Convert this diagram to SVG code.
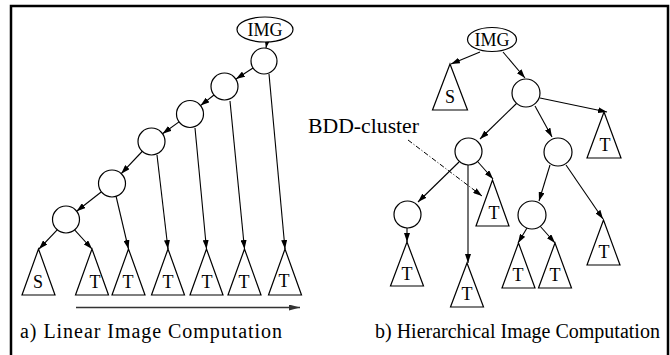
<svg xmlns="http://www.w3.org/2000/svg" width="670" height="355" viewBox="0 0 670 355">
<defs>
<marker id="ah" markerWidth="9" markerHeight="6" refX="9" refY="3" orient="auto" markerUnits="userSpaceOnUse">
<path d="M0,0 L9,3 L0,6 Z" fill="#000"/>
</marker>
<marker id="ahg" markerWidth="11" markerHeight="6" refX="11" refY="3" orient="auto" markerUnits="userSpaceOnUse">
<path d="M0,0 L11,3 L0,6 Z" fill="#333"/>
</marker>
</defs>
<style>
.n{fill:#fff;stroke:#000;stroke-width:1.2}
.e{stroke:#000;stroke-width:1.1;fill:none;marker-end:url(#ah)}
.t{font-family:"Liberation Serif","Times New Roman",serif;font-size:18px;fill:#000;text-anchor:middle}
.lab{font-family:"Liberation Serif","Times New Roman",serif;font-size:20px;fill:#000}
</style>
<rect width="670" height="355" fill="#fff"/>
<path d="M11,355 V6 H668 V355" fill="none" stroke="#000" stroke-width="2.5"/>

<g id="connectors">
<line class="e" x1="267" y1="42" x2="266" y2="48"/>
<line class="e" x1="253" y1="68" x2="236" y2="79"/>
<line class="e" x1="214" y1="95" x2="200.5" y2="105.6"/>
<line class="e" x1="179.4" y1="121.6" x2="162.5" y2="133.7"/>
<line class="e" x1="142.6" y1="151" x2="121.2" y2="173.7"/>
<line class="e" x1="101.8" y1="191.5" x2="76.6" y2="211.2"/>
<line class="e" x1="57.2" y1="229.8" x2="39" y2="249"/>
<line class="e" x1="74.6" y1="229.9" x2="92" y2="249"/>
<line class="e" x1="116" y1="196" x2="128.5" y2="249"/>
<line class="e" x1="157" y1="155" x2="168" y2="249"/>
<line class="e" x1="195" y1="128" x2="206.5" y2="249"/>
<line class="e" x1="230" y1="101" x2="244.5" y2="249"/>
<line class="e" x1="269" y1="74" x2="285" y2="249"/>
<line x1="76" y1="307.5" x2="300" y2="307.5" stroke="#333" stroke-width="1.4" marker-end="url(#ahg)"/>
<line class="e" x1="480" y1="52" x2="451" y2="64"/>
<line class="e" x1="503" y1="52" x2="525" y2="78"/>
<line class="e" x1="540" y1="98" x2="607" y2="112"/>
<line class="e" x1="535" y1="106" x2="552" y2="137"/>
<line class="e" x1="517" y1="103" x2="480" y2="139"/>
<line class="e" x1="459" y1="162" x2="418" y2="202"/>
<line class="e" x1="468" y1="165" x2="468" y2="263"/>
<line class="e" x1="478" y1="162" x2="493" y2="179"/>
<line class="e" x1="407" y1="228" x2="407" y2="242"/>
<line class="e" x1="550" y1="165" x2="539" y2="201"/>
<line class="e" x1="566" y1="165" x2="603" y2="219"/>
<line class="e" x1="527" y1="228" x2="518" y2="243"/>
<line class="e" x1="540" y1="226" x2="555" y2="243"/>
<line x1="408" y1="140" x2="482" y2="196" stroke="#000" stroke-width="1" stroke-dasharray="5,2,1,2" marker-end="url(#ah)"/>
</g>

<g id="a-img"><ellipse class="n" cx="265" cy="29.5" rx="28" ry="12.5"/><text class="t" x="265" y="36">IMG</text></g>
<g id="a-c1"><circle class="n" cx="264" cy="61" r="13"/></g>
<g id="a-c2"><circle class="n" cx="224.5" cy="86.5" r="13.5"/></g>
<g id="a-c3"><circle class="n" cx="190" cy="114" r="13.5"/></g>
<g id="a-c4"><circle class="n" cx="151.5" cy="141.5" r="13.5"/></g>
<g id="a-c5"><circle class="n" cx="112" cy="183.5" r="13.5"/></g>
<g id="a-c6"><circle class="n" cx="66" cy="219.5" r="13.5"/></g>
<g id="a-s"><polygon class="n" points="38.5,249 22,295 55,295"/><text class="t" x="38" y="288">S</text></g>
<g id="a-t1"><polygon class="n" points="92,249 75.5,295 108.5,295"/><text class="t" x="95" y="288">T</text></g>
<g id="a-t2"><polygon class="n" points="128.5,249 112,295 145,295"/><text class="t" x="128" y="288">T</text></g>
<g id="a-t3"><polygon class="n" points="168,249 151.5,295 184.5,295"/><text class="t" x="168" y="288">T</text></g>
<g id="a-t4"><polygon class="n" points="206.5,249 190,295 223,295"/><text class="t" x="207" y="288">T</text></g>
<g id="a-t5"><polygon class="n" points="244.5,249 228,295 261,295"/><text class="t" x="244" y="288">T</text></g>
<g id="a-t6"><polygon class="n" points="285,249 268.5,295 301.5,295"/><text class="t" x="284" y="287">T</text></g>

<g id="b-img"><ellipse class="n" cx="492" cy="39.5" rx="24.5" ry="12"/><text class="t" x="492" y="46">IMG</text></g>
<g id="b-s"><polygon class="n" points="450,64 432.5,110 467.5,110"/><text class="t" x="450" y="103">S</text></g>
<g id="b-a"><circle class="n" cx="526" cy="93" r="14"/></g>
<g id="b-t1"><polygon class="n" points="604,112 587,158 621,158"/><text class="t" x="605" y="151">T</text></g>
<g id="b-b"><circle class="n" cx="468.5" cy="151.5" r="13.5"/></g>
<g id="b-c"><circle class="n" cx="558" cy="152" r="14"/></g>
<g id="b-t2"><polygon class="n" points="492.5,180 476,226 509,226"/><text class="t" x="494" y="219">T</text></g>
<g id="b-d"><circle class="n" cx="407.5" cy="214.5" r="13.5"/></g>
<g id="b-t3"><polygon class="n" points="407,242 390.5,286 423.5,286"/><text class="t" x="407" y="280">T</text></g>
<g id="b-t4"><polygon class="n" points="467,263 450.5,307 483.5,307"/><text class="t" x="467" y="300">T</text></g>
<g id="b-e"><circle class="n" cx="532" cy="215" r="14"/></g>
<g id="b-t5"><polygon class="n" points="518.5,243 502,288 535,288"/><text class="t" x="518" y="281">T</text></g>
<g id="b-t6"><polygon class="n" points="555,243 538.5,288 571.5,288"/><text class="t" x="555" y="281">T</text></g>
<g id="b-t7"><polygon class="n" points="603.5,220 587,265 620,265"/><text class="t" x="604" y="258">T</text></g>

<text class="lab" x="308" y="133" textLength="111" lengthAdjust="spacingAndGlyphs">BDD-cluster</text>
<text class="lab" x="20" y="338" textLength="262" lengthAdjust="spacing">a) Linear Image Computation</text>
<text class="lab" x="375" y="338">b) Hierarchical Image Computation</text>
</svg>
